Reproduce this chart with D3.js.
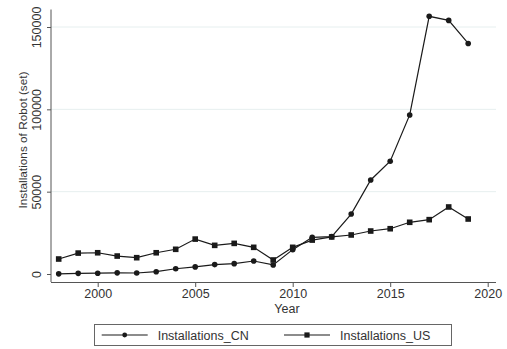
<!DOCTYPE html>
<html>
<head>
<meta charset="utf-8">
<script src="https://cdn.jsdelivr.net/npm/d3@7"></script>
<style>
  html, body { margin: 0; padding: 0; background: #fff; }
  svg { display: block; font-family: "Liberation Sans", Arial, sans-serif; }
</style>
</head>
<body>
<svg id="chart" width="507" height="349"></svg>
<script>
// Annual industrial robot installations (sets)
const years = [1998, 1999, 2000, 2001, 2002, 2003, 2004, 2005, 2006, 2007, 2008,
               2009, 2010, 2011, 2012, 2013, 2014, 2015, 2016, 2017, 2018, 2019];
const installationsCN = [100, 400, 500, 700, 600, 1400, 3200, 4300, 5700, 6300, 7900,
                         5500, 14800, 22300, 22700, 36400, 57100, 68500, 96600, 156500, 154000, 140000];
const installationsUS = [9100, 12700, 12900, 10900, 9900, 12900, 15000, 21200, 17400, 18600, 16200,
                         8500, 16200, 20600, 22500, 23700, 26100, 27500, 31400, 33000, 40700, 33400];
const xTicks = [2000, 2005, 2010, 2015, 2020];
const yTicks = [0, 50000, 100000, 150000];
const seriesNames = ["Installations_CN", "Installations_US"];

const svg = d3.select("#chart");
const x = d3.scaleLinear().domain([1998, 2020]).range([58.7, 487.7]);
const y = d3.scaleLinear().domain([0, 150000]).range([274, 27]);

const axisColor = "#555";
const textColor = "#333";
const lineColor = "#1a1a1a";

// horizontal grid lines
svg.append("g").selectAll("line")
  .data(yTicks.slice(1))
  .join("line")
  .attr("x1", 51).attr("x2", 496)
  .attr("y1", d => y(d)).attr("y2", d => y(d))
  .attr("stroke", "#e6efef").attr("stroke-width", 1);

// y axis
const yAxis = svg.append("g")
  .attr("transform", "translate(51,0)")
  .call(d3.axisLeft(y).tickValues(yTicks).tickFormat(d3.format("d")).tickSize(4).tickSizeOuter(0));
yAxis.select(".domain").attr("stroke", axisColor).attr("d", "M0,9.5V282");
yAxis.selectAll(".tick line").attr("stroke", axisColor);
yAxis.selectAll(".tick text")
  .attr("fill", textColor)
  .attr("font-size", "12.5px")
  .attr("transform", "rotate(-90)")
  .attr("x", 0).attr("y", -10)
  .attr("dy", 0)
  .attr("text-anchor", "middle");

// x axis
const xAxis = svg.append("g")
  .attr("transform", "translate(0,282)")
  .call(d3.axisBottom(x).tickValues(xTicks).tickFormat(d3.format("d")).tickSize(5).tickSizeOuter(0));
xAxis.select(".domain").attr("stroke", axisColor).attr("d", "M51,0.5H496");
xAxis.selectAll(".tick line").attr("stroke", axisColor);
xAxis.selectAll(".tick text")
  .attr("fill", textColor)
  .attr("font-size", "12.5px")
  .attr("y", 7).attr("dy", "0.71em");

// axis titles
svg.append("text")
  .attr("transform", "translate(27,140) rotate(-90)")
  .attr("text-anchor", "middle")
  .attr("fill", textColor)
  .attr("font-size", "11.8px")
  .text("Installations of Robot (set)");
svg.append("text")
  .attr("x", 287).attr("y", 313)
  .attr("text-anchor", "middle")
  .attr("fill", textColor)
  .attr("font-size", "12.5px")
  .text("Year");

const line = d3.line().x((d, i) => x(years[i])).y(d => y(d));

// CN series: line with circles
svg.append("path").datum(installationsCN)
  .attr("d", line).attr("fill", "none")
  .attr("stroke", lineColor).attr("stroke-width", 1.2);
svg.append("g").selectAll("circle")
  .data(installationsCN).join("circle")
  .attr("cx", (d, i) => x(years[i])).attr("cy", d => y(d))
  .attr("r", 2.8).attr("fill", lineColor);

// US series: line with squares
svg.append("path").datum(installationsUS)
  .attr("d", line).attr("fill", "none")
  .attr("stroke", lineColor).attr("stroke-width", 1.2);
const sq = 5.6;
svg.append("g").selectAll("rect")
  .data(installationsUS).join("rect")
  .attr("x", (d, i) => x(years[i]) - sq / 2).attr("y", d => y(d) - sq / 2)
  .attr("width", sq).attr("height", sq).attr("fill", lineColor);

// legend
const legend = svg.append("g");
legend.append("rect")
  .attr("x", 94.5).attr("y", 324.5).attr("width", 357).attr("height", 21)
  .attr("fill", "#fff").attr("stroke", "#666").attr("stroke-width", 1);
const legendItems = [
  { name: seriesNames[0], x0: 101.7, marker: "circle" },
  { name: seriesNames[1], x0: 284, marker: "square" }
];
const ly = 335;
legendItems.forEach(item => {
  legend.append("line")
    .attr("x1", item.x0).attr("x2", item.x0 + 46)
    .attr("y1", ly).attr("y2", ly)
    .attr("stroke", lineColor).attr("stroke-width", 1.2);
  const cx = item.x0 + 23;
  if (item.marker === "circle") {
    legend.append("circle").attr("cx", cx).attr("cy", ly).attr("r", 2.4).attr("fill", lineColor);
  } else {
    legend.append("rect").attr("x", cx - 2.6).attr("y", ly - 2.6)
      .attr("width", 5.2).attr("height", 5.2).attr("fill", lineColor);
  }
  legend.append("text")
    .attr("x", item.x0 + 56).attr("y", ly + 4.5)
    .attr("fill", textColor).attr("font-size", "12.5px")
    .text(item.name);
});
</script>
</body>
</html>
